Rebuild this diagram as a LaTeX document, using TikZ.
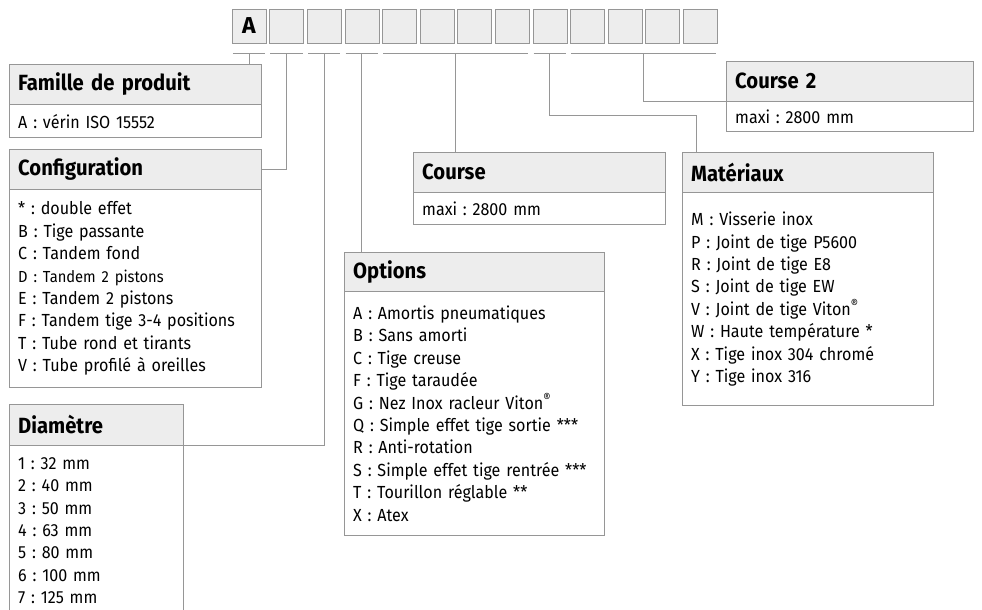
\documentclass[tikz,border=0pt]{standalone}
\usepackage{fontspec}
\setmainfont{Fira Sans}
\newfontfamily\panelfont[FakeStretch=0.92]{Fira Sans}
\usetikzlibrary{calc}

\begin{document}
\frenchspacing
\begin{tikzpicture}[x=1pt,y=-1pt]
	\definecolor{linegray}{RGB}{150,150,150}
	\definecolor{headgray}{RGB}{237,237,237}
	\tikzset{
		panelhead/.style={draw=linegray, fill=headgray, anchor=north west, inner xsep=9pt, inner ysep=0pt, minimum height=40pt, text width=#1, align=left, font=\panelfont\bfseries\fontsize{22}{24}\selectfont},
		panelbody/.style={draw=linegray, fill=white, anchor=north west, inner xsep=9pt, inner ysep=0pt, text width=#1, align=left, font=\panelfont\fontsize{17.5}{22.4}\selectfont},
		codebox/.style={draw=linegray, fill=headgray, minimum size=34pt, inner sep=0pt, font=\bfseries\fontsize{23}{24}\selectfont},
		link/.style={draw=linegray, line width=1pt}
	}
	\useasboundingbox (0,0) rectangle (982,610);
	
	% code boxes
	\node[codebox] (c1) at (249,26) {A};
	\foreach \i in {2,...,13}
		\node[codebox] (c\i) at ({249+37.6*(\i-1)},26) {};
	\foreach \a/\b/\n in {1/1/g1,2/2/g2,3/3/g3,4/4/g4,5/8/g5,9/9/g6,10/13/g7}
		\draw[link] ($(c\a.south west)+(1,10)$) -- coordinate[midway] (\n) ($(c\b.south east)+(-1,10)$);
	
	% panels
	\node[panelhead=234pt] (fam) at (9,64) {Famille de produit};
	\node[panelbody=234pt, minimum height=33pt] (fam-b) at (fam.south west) {A : vérin ISO 15552};
	
	\node[panelhead=234pt] (config) at (9,149) {Configuration};
	\node[panelbody=234pt, minimum height=198pt] (config-b) at (config.south west) {* : double effet\\
		B : Tige passante\\
		C : Tandem fond\\
		{\fontsize{16}{22.4}\selectfont D : Tandem 2 pistons}\\
		E : Tandem 2 pistons\\
		F : Tandem tige 3-4 positions\\
		T : Tube rond et tirants\\
		V : Tube profilé à oreilles};
	
	\node[panelhead=156pt, minimum height=41pt] (diam) at (9,404) {Diamètre};
	\node[panelbody=156pt, minimum height=170pt] (diam-b) at (diam.south west) {1 : 32 mm\\
		2 : 40 mm\\
		3 : 50 mm\\
		4 : 63 mm\\
		5 : 80 mm\\
		6 : 100 mm\\
		7 : 125 mm};
	
	\node[panelhead=234pt] (course) at (413,152) {Course};
	\node[panelbody=234pt, minimum height=32pt] (course-b) at (course.south west) {maxi : 2800 mm};
	
	\node[panelhead=242pt, minimum height=39pt] (options) at (344,252) {Options};
	\node[panelbody=242pt, minimum height=244pt] (options-b) at (options.south west) {A : Amortis pneumatiques\\
		B : Sans amorti\\
		C : Tige creuse\\
		F : Tige taraudée\\
		G : Nez Inox racleur Viton\textsuperscript{®}\\
		Q : Simple effet tige sortie ***\\
		R : Anti-rotation\\
		S : Simple effet tige rentrée ***\\
		T : Tourillon réglable **\\
		X : Atex};
	
	\node[panelhead=233pt] (mat) at (682,152) {Matériaux};
	\node[panelbody=233pt, minimum height=213pt] (mat-b) at (mat.south west) {M : Visserie inox\\
		P : Joint de tige P5600\\
		R : Joint de tige E8\\
		S : Joint de tige EW\\
		V : Joint de tige Viton\textsuperscript{®}\\
		W : Haute température *\\
		X : Tige inox 304 chromé\\
		Y : Tige inox 316};
	
	\node[panelhead=229pt] (course2) at (726,61) {Course 2};
	\node[panelbody=229pt, minimum height=30pt] (course2-b) at (course2.south west) {maxi : 2800 mm};
	
	% connectors
	\coordinate (mat-in) at ([xshift=14.5pt]mat.north west);
	\draw[link] (g1) -- (g1 |- fam.north);
	\draw[link] (g2) |- (config.east);
	\draw[link] (g3) |- (diam.south east);
	\draw[link] (g4) -- (g4 |- options.north);
	\draw[link] (g5) -- (g5 |- course.north);
	\draw[link] (g6) -- ++(0,62) -| (mat-in);
	\draw[link] (g7) |- (course2.south west);
	
\end{tikzpicture}
\end{document}
